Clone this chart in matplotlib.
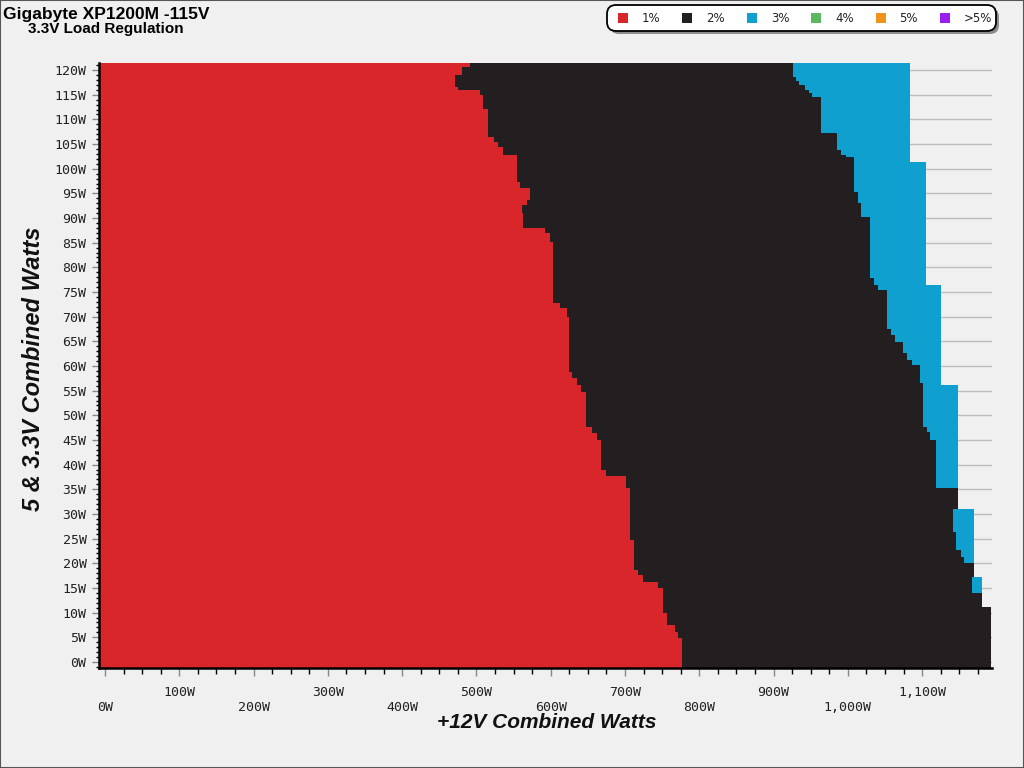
import matplotlib
matplotlib.use("Agg")
import matplotlib.pyplot as plt
from matplotlib.patches import FancyBboxPatch, Rectangle
from matplotlib.ticker import MultipleLocator

# ---------------- data ----------------
# +5V & 3.3V combined load (W) at which each step starts, and the +12V load (W)
# where the 1% (red) band ends
red_y = [-1.3, 4.8, 6.1, 7.5, 9.9, 14.9, 16.3, 17.6, 18.6, 24.7, 35.2, 37.6, 38.9,
         45, 46.4, 47.7, 54.8, 56.2, 57.5, 58.8, 70, 71.7, 72.7, 85.2, 86.9, 87.9,
         91, 92.6, 93.7, 96, 97.4, 102.8, 104.5, 105.5, 106.5, 112.2, 115, 116,
         116.6, 119, 120.7]
red_x = [777, 772, 767, 756, 751, 745, 724, 718, 712, 707, 701, 674, 668,
         662, 656, 647, 641, 635, 628, 624, 622, 612, 603, 599, 592, 563,
         561, 568, 572, 559, 554, 536, 529, 524, 515, 509, 505, 475,
         471, 480, 491]

# outer edge of the tested region (+12V W)
edge_y = [-1.3, 11.1, 17.3, 31.1, 56.2, 76.4, 101.4]
edge_x = [1193, 1181, 1170, 1148, 1126, 1105, 1083]

# 3% (blue) band: start and end (+12V W); equal values = no blue band
blue_y = [-1.3, 13.9, 17.3, 20, 21.3, 22.7, 26.4, 31.1, 35.2, 45, 46.7, 47.7,
          56.2, 56.5, 60.2, 61.2, 62.6, 64.9, 66.3, 67.6, 75.4, 76.4, 77.8,
          90.3, 93, 95.3, 101.4, 102.4, 102.8, 103.8, 107.2, 114.6, 115.3,
          116, 117, 117.7, 118.7]
blue_lo = [1193, 1167, 1170, 1156, 1152, 1146, 1141, 1148, 1118, 1111, 1107, 1101,
           1101, 1097, 1086, 1079, 1074, 1063, 1058, 1052, 1041, 1035, 1030,
           1018, 1014, 1008, 1008, 997, 991, 985, 964, 952, 948,
           942, 934, 930, 926]
blue_hi = [1193, 1181, 1170, 1170, 1170, 1170, 1170, 1148, 1148, 1148, 1148, 1148,
           1126, 1126, 1126, 1126, 1126, 1126, 1126, 1126, 1126, 1105, 1105,
           1105, 1105, 1105, 1083, 1083, 1083, 1083, 1083, 1083, 1083,
           1083, 1083, 1083, 1083]
y_top = 121.5

legend_labels = ['1%', '2%', '3%', '4%', '5%', '>5%']
legend_colors = ['#D9262B', '#231F20', '#0FA0CF', '#5CB85C', '#F0921E', '#9A1FEF']

x_ticks = list(range(0, 1200, 100))
y_ticks = list(range(0, 125, 5))

# ---------------- figure ----------------
BG = '#F0F0F0'
fig = plt.figure(figsize=(10.24, 7.68), dpi=100, facecolor=BG)
ax = fig.add_axes([99/1024, 1-668.3/768, 893/1024, (668.3-62.7)/768])
ax.set_facecolor(BG)
x_left = -8
ax.set_xlim(x_left, 1194)
ax.set_ylim(-1.3, y_top)


def step_fill(ys, lo, hi, color):
    y = list(ys) + [y_top]
    a = (list(lo) + [lo[-1]]) if isinstance(lo, list) else lo
    b = list(hi) + [hi[-1]]
    ax.fill_betweenx(y, a, b, step='post', color=color, linewidth=0,
                     antialiased=False, zorder=1)


step_fill(edge_y, x_left, edge_x, legend_colors[1])
step_fill(red_y, x_left, red_x, legend_colors[0])
step_fill(blue_y, blue_lo, blue_hi, legend_colors[2])

ax.set_axisbelow(True)
ax.yaxis.grid(True, which='major', color='#BDBDBD', lw=1)

for s in ['top', 'right']:
    ax.spines[s].set_visible(False)
for s in ['left', 'bottom']:
    ax.spines[s].set_color('black')
    ax.spines[s].set_linewidth(1.8)
    ax.spines[s].set_zorder(3)

mono = 'DejaVu Sans Mono'
ax.set_xticks(x_ticks)
ax.set_xticklabels([(f"{v:,}W" if (v // 100) % 2 else f"\n{v:,}W") for v in x_ticks],
                   family=mono, fontsize=9.5, color='#222222')
ax.xaxis.set_minor_locator(MultipleLocator(25))
ax.tick_params(axis='x', which='major', length=6, width=1, color='#888888', pad=7)
ax.tick_params(axis='x', which='minor', length=4, width=1, color='black')

ax.set_yticks(y_ticks)
ax.set_yticklabels([f"{v}W" for v in y_ticks], family=mono, fontsize=9.5, color='#222222')
ax.yaxis.set_minor_locator(MultipleLocator(1))
ax.tick_params(axis='y', which='major', length=5, width=1, color='#888888', pad=4)
ax.tick_params(axis='y', which='minor', length=2.5, width=1, color='black', direction='out')

sans = 'Liberation Sans'
fig.text(547/1024, 1-723/768, '+12V Combined Watts', family=sans, fontsize=15,
         fontweight='bold', fontstyle='italic', ha='center', va='center', color='#111111')
fig.text(34/1024, 1-369/768, '5 & 3.3V Combined Watts', family=sans, fontsize=17,
         fontweight='bold', fontstyle='italic', ha='center', va='center',
         rotation=90, color='#111111')

fig.text(3/1024, 1-18.5/768, 'Gigabyte XP1200M -115V', family=sans, fontsize=12.5,
         fontweight='bold', ha='left', va='baseline', color='black')
fig.text(28/1024, 1-33.5/768, '3.3V Load Regulation', family=sans, fontsize=11,
         fontweight='bold', ha='left', va='baseline', color='black')

# legend (pixel-based layout in inches)
px = 1/100.0
H = 7.68
shadow = FancyBboxPatch((610*px, H-34*px), 389*px, 26*px,
                        boxstyle='round,pad=0,rounding_size=0.09',
                        transform=fig.dpi_scale_trans, facecolor='#8C8C8C',
                        edgecolor='none', zorder=5)
box = FancyBboxPatch((607*px, H-31*px), 389*px, 26*px,
                     boxstyle='round,pad=0,rounding_size=0.09',
                     transform=fig.dpi_scale_trans, facecolor='white',
                     edgecolor='black', linewidth=1.3, zorder=6)
fig.patches.extend([shadow, box])
for i, (lab, col) in enumerate(zip(legend_labels, legend_colors)):
    cx = 623 + 64.4 * i
    sq = Rectangle(((cx-5)*px, H-23*px), 10*px, 10*px, transform=fig.dpi_scale_trans,
                   facecolor=col, edgecolor='none', zorder=7)
    fig.patches.append(sq)
    fig.text((cx+19)*px/10.24, 1-18/768, lab, family='DejaVu Sans', fontsize=8.5,
             ha='left', va='center', color='#222222', zorder=8)

# outer frame
fig.patches.append(Rectangle((0, 0), 1, 1, transform=fig.transFigure, fill=False,
                             edgecolor='#555555', linewidth=1.5, zorder=10))

fig.savefig('out.png', dpi=100, facecolor=BG)
